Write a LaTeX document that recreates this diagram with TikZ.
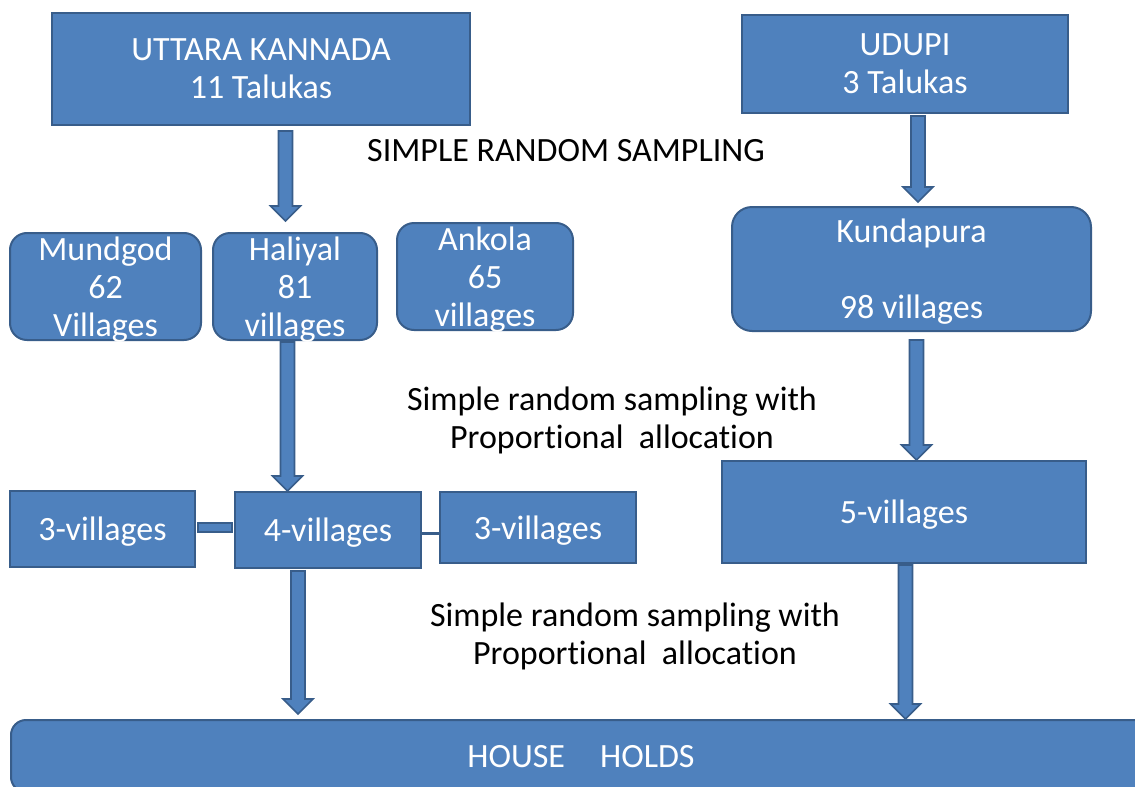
\documentclass[tikz,border=0pt]{standalone}
\usepackage{fontspec}
\setmainfont{Carlito}[Ligatures=NoCommon]
\usetikzlibrary{calc}
\definecolor{boxfill}{HTML}{4F81BD}
\definecolor{boxline}{HTML}{385D8A}
\newcommand\blockarrow[2]{%
  \draw[barrow] let \p1=(#1), \p2=(#2) in
    (\x1-3.5pt,\y1) -- (\x1+3.5pt,\y1) -- (\x1+3.5pt,\y2+7.5pt) --
    (\x1+7.5pt,\y2+7.5pt) -- (\x1,\y2) -- (\x1-7.5pt,\y2+7.5pt) --
    (\x1-3.5pt,\y2+7.5pt) -- cycle;}
\begin{document}
\begin{tikzpicture}[x=0.5pt,y=-0.5pt,
  every node/.style={font=\fontsize{17}{19}\selectfont, align=center, inner sep=0pt, text depth=0pt},
  sqbox/.style={draw=boxline, fill=boxfill, line width=1pt, text=white},
  rbox/.style={sqbox, rounded corners=8.5pt},
  lbl/.style={text=black},
  barrow/.style={draw=boxline, fill=boxfill, line width=0.8pt, line join=miter},
  thinlink/.style={draw=boxline, line width=1.5pt},
]
\useasboundingbox (0,0) rectangle (1135,787);
\fill[white] (0,0) rectangle (1135,787);

% boxes
\node[sqbox, minimum width=209pt, minimum height=56pt] (uk) at (261,69) {UTTARA KANNADA\\11 Talukas};
\node[sqbox, minimum width=163pt, minimum height=49pt] (udupi) at (905,64) {UDUPI\\3 Talukas};
\node[rbox, minimum width=95.5pt, minimum height=53.5pt] (mund) at (105.5,286.5) {Mundgod\\62\\Villages};
\node[rbox, minimum width=82pt, minimum height=53.5pt] (hali) at (295,286.5) {Haliyal\\81\\villages};
\node[rbox, minimum width=88pt, minimum height=53.5pt] (ank) at (485,276.5) {Ankola\\65\\villages};
\node[rbox, rounded corners=10pt, minimum width=179.5pt, minimum height=62pt] (kund) at (911.5,269) {Kundapura\\\mbox{}\\98 villages};
\node[sqbox, minimum width=92.5pt, minimum height=38pt] (v3a) at (102.5,529) {3-villages};
\node[sqbox, minimum width=93pt, minimum height=38pt] (v4) at (328,530) {4-villages};
\node[sqbox, minimum width=98pt, minimum height=35.5pt] (v3b) at (538,527.5) {3-villages};
\node[sqbox, minimum width=182pt, minimum height=51pt] (v5) at (904,512) {5-villages};
\node[rbox, rounded corners=7.5pt, minimum width=570pt, minimum height=36pt] (hh) at (581,756) {HOUSE\hspace{17.5pt}HOLDS};

% labels
\node[lbl] (srs) at (566,150) {SIMPLE RANDOM SAMPLING};
\node[lbl] (t1) at (612,418) {Simple random sampling with\\Proportional\ \ allocation};
\node[lbl] (t2) at (635,634) {Simple random sampling with\\Proportional\ \ allocation};

% arrow axes
\coordinate (ax1) at (285.5,0);
\coordinate (ax2) at (918,0);
\coordinate (ax3) at (287.5,0);
\coordinate (ax4) at (916.5,0);
\coordinate (ax5) at (298,0);
\coordinate (ax6) at (905.5,0);
\coordinate (cy1) at (0,527.5);
\coordinate (cy2) at (0,533);

% arrows
\blockarrow{$(uk.south -| ax1)+(0,5)$}{$(hali.north -| ax1)+(0,-11)$}
\blockarrow{$(udupi.south -| ax2)+(0,2)$}{$(kund.north -| ax2)+(0,-4)$}
\blockarrow{$(hali.south -| ax3)+(0,1)$}{$(v4.north -| ax3)$}
\blockarrow{$(kund.south -| ax4)+(0,8)$}{$(v5.north -| ax4)$}
\blockarrow{$(v4.south -| ax5)+(0,2)$}{$(hh.north -| ax5)+(0,-5)$}
\blockarrow{$(v5.south -| ax6)+(0,1)$}{$(hh.north -| ax6)$}

% links between village boxes
\draw[barrow] ($(v3a.east |- cy1)+(2,-4.5)$) rectangle ($(v4.west |- cy1)+(-2,4.5)$);
\draw[thinlink] (v4.east |- cy2) -- (v3b.west |- cy2);
\end{tikzpicture}
\end{document}
